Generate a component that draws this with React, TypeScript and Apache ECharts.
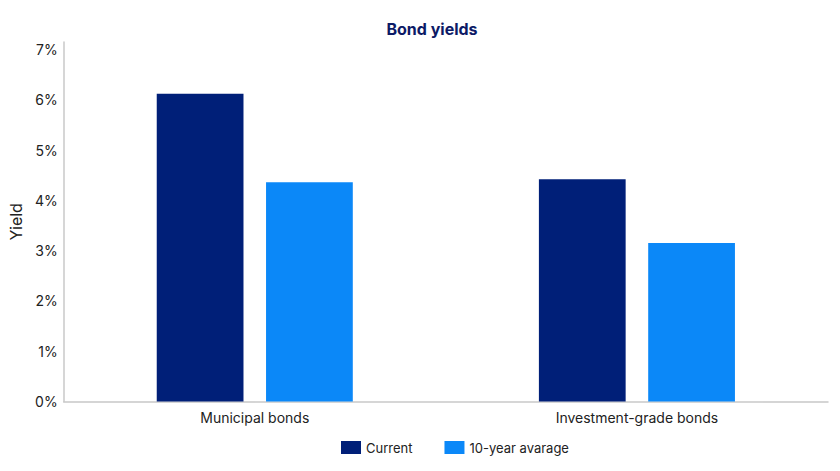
import { useRef, useEffect } from "react";
import * as echarts from "echarts";

// Bond yields (%)
const categories = ["Municipal bonds", "Investment-grade bonds"];
const currentYields = [6.12, 4.42];
const tenYearAverage = [4.36, 3.15];
const seriesNames = ["Current", "10-year avarage"];

const FONT = "Inter, 'Noto Sans', sans-serif";

export default function App() {
  const chartRef = useRef<HTMLDivElement>(null);

  useEffect(() => {
    if (!chartRef.current) return;
    document.body.style.margin = "0";
    const chart = echarts.init(chartRef.current, undefined, { renderer: "svg" });

    chart.setOption({
      animation: false,
      title: {
        text: "Bond yields",
        left: 427,
        top: 16,
        textAlign: "center",
        textStyle: {
          fontFamily: FONT,
          fontSize: 16,
          fontWeight: "bold",
          color: "#0c1a66",
        },
      },
      legend: {
        data: seriesNames,
        top: 436,
        left: 336,
        itemWidth: 20,
        itemHeight: 13,
        itemGap: 32,
        icon: "rect",
        textStyle: { fontFamily: FONT, fontSize: 13, color: "#222" },
      },
      grid: { left: 62, right: 12, top: 42, bottom: 69.5 },
      xAxis: {
        type: "category",
        data: categories,
        axisLine: { lineStyle: { color: "#c8c8c8", width: 1.5 } },
        axisTick: { show: false },
        axisLabel: {
          fontFamily: FONT,
          fontSize: 14,
          color: "#222",
          margin: 9,
        },
      },
      yAxis: {
        type: "value",
        min: 0,
        max: 7.15,
        interval: 1,
        name: "Yield",
        nameLocation: "middle",
        nameGap: 38,
        nameRotate: 90,
        nameTextStyle: { fontFamily: FONT, fontSize: 16, color: "#222" },
        axisLine: { show: true, lineStyle: { color: "#c8c8c8", width: 1.5 } },
        axisTick: { show: false },
        splitLine: { show: false },
        axisLabel: {
          fontFamily: FONT,
          fontSize: 14,
          color: "#222",
          margin: 6,
          formatter: (v: number) => (Number.isInteger(v) ? `${v}%` : ""),
        },
      },
      series: [
        {
          name: seriesNames[0],
          type: "bar",
          data: currentYields,
          barWidth: "22.7%",
          barGap: "26%",
          itemStyle: { color: "#001f78" },
        },
        {
          name: seriesNames[1],
          type: "bar",
          data: tenYearAverage,
          barWidth: "22.7%",
          itemStyle: { color: "#0b88f8" },
        },
      ],
    });

    return () => chart.dispose();
  }, []);

  return (
    <div
      ref={chartRef}
      style={{ position: "absolute", left: 0, top: 0, width: 840, height: 471 }}
    />
  );
}
